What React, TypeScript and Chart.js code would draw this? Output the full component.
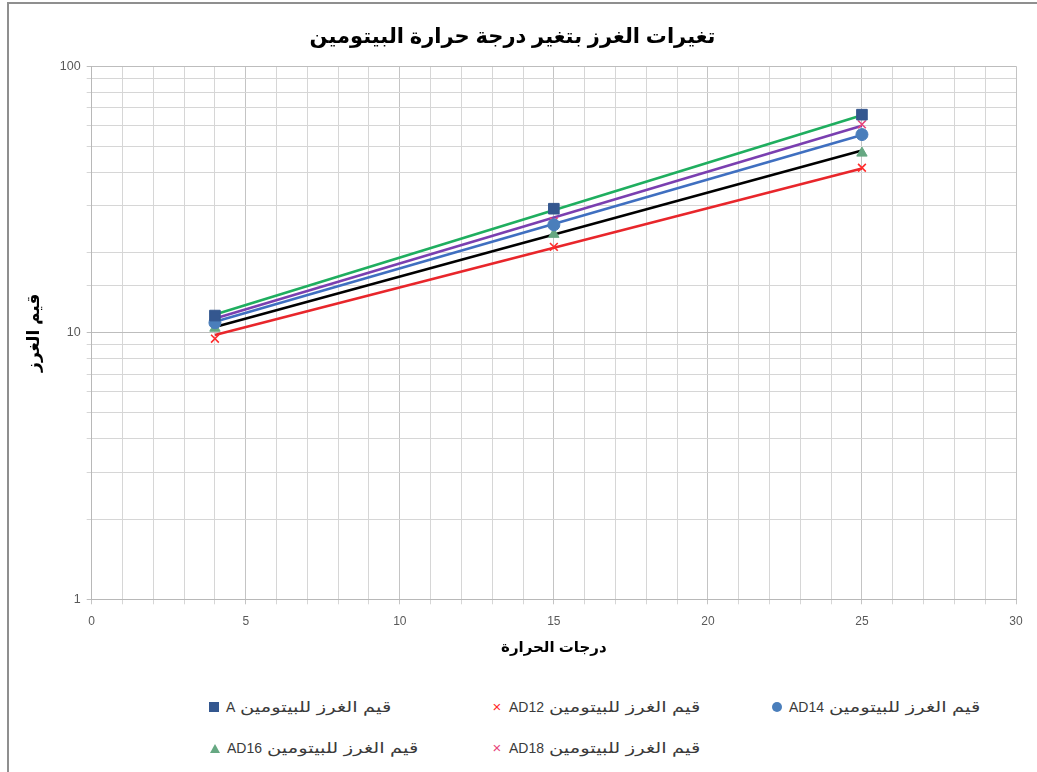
import React, { useEffect, useRef } from "react";
import { Chart, registerables } from "chart.js";

Chart.register(...registerables);

const titleText = "تغيرات الغرز بتغير درجة حرارة البيتومين";
const xTitle = "درجات الحرارة";
const yTitle = "قيم الغرز";

const temps = [4, 15, 25];
const seriesPrefix = "قيم الغرز للبيتومين";
const seriesCodes = ["A", "AD12", "AD14", "AD16", "AD18"];
const valuesA = [11.6, 29.2, 65.8];
const valuesAD12 = [9.5, 21.0, 41.6];
const valuesAD14 = [10.9, 25.4, 55.4];
const valuesAD16 = [10.4, 23.4, 47.2];
const valuesAD18 = [11.2, 26.2, 60.5];

// trend lines (at x = 4 and x = 25)
const trendX = [4, 25];
const trendA = [11.7, 65.5];
const trendAD18 = [11.3, 59.8];
const trendAD14 = [11.0, 55.2];
const trendAD16 = [10.5, 48.3];
const trendAD12 = [9.8, 41.3];

const xTicksMajor = [0, 5, 10, 15, 20, 25, 30];
const yTicksMajor = [1, 10, 100];

const markerColors = ["#34578f", "#ff2b2b", "#4a7ebb", "#66a882", "#e8457c"];
const markerStyles = ["rect", "crossRot", "circle", "triangle", "crossRot"];
const trendColors = ["#1fae5f", "#7a3fb0", "#3f6fc0", "#000000", "#e8262b"];

const FONT = "'Liberation Sans', Arial, 'DejaVu Sans', sans-serif";

function toPts(xs: number[], ys: number[]) {
  return xs.map((x, i) => ({ x, y: ys[i] }));
}

export default function App() {
  const canvasRef = useRef<HTMLCanvasElement | null>(null);

  useEffect(() => {
    if (!canvasRef.current) return;
    const seriesValues = [valuesA, valuesAD12, valuesAD14, valuesAD16, valuesAD18];
    const trends = [trendA, trendAD18, trendAD14, trendAD16, trendAD12];
    const datasets: any[] = [];
    trends.forEach((t, i) => {
      datasets.push({
        label: "trend" + i,
        data: toPts(trendX, t),
        borderColor: trendColors[i],
        backgroundColor: trendColors[i],
        borderWidth: 2.6,
        pointRadius: 0,
        showLine: true,
        order: 2,
      });
    });
    seriesValues.forEach((v, i) => {
      const st = markerStyles[i];
      const isCross = st === "crossRot";
      datasets.push({
        label: seriesPrefix + " " + seriesCodes[i],
        data: toPts(temps, v),
        borderColor: markerColors[i],
        backgroundColor: markerColors[i],
        pointStyle: st,
        pointRadius: isCross ? 5.5 : st === "rect" ? 7.5 : st === "triangle" ? 6 : 6,
        pointBorderWidth: isCross ? 1.6 : 1,
        showLine: false,
        order: 1,
      });
    });

    const chart = new Chart(canvasRef.current, {
      type: "scatter",
      data: { datasets },
      options: {
        animation: false,
        responsive: true,
        maintainAspectRatio: false,
        layout: { padding: { left: 0, right: 21, top: 0, bottom: 0 } },
        plugins: {
          legend: { display: false },
          tooltip: { enabled: false },
          title: {
            display: true,
            text: titleText,
            color: "#000",
            font: { family: FONT, size: 21, weight: "bold" },
            padding: { top: 21, bottom: 16 },
          },
        },
        scales: {
          x: {
            type: "linear",
            min: 0,
            max: 30,
            afterFit: (s: any) => {
              s.height = 64.7;
            },
            ticks: {
              stepSize: 1,
              autoSkip: false,
              maxRotation: 0,
              padding: 10,
              color: "#595959",
              font: { family: FONT, size: 12 },
              callback: (v: any) => (xTicksMajor.includes(Number(v)) ? String(v) : ""),
            },
            grid: {
              color: (c: any) =>
                c.tick && xTicksMajor.includes(c.tick.value) ? "#c4c4c4" : "#d6d6d6",
              tickLength: 5,
              lineWidth: 1,
            },
            border: { color: "#b8b8b8", width: 1 },
            title: {
              display: true,
              text: xTitle,
              color: "#000",
              font: { family: FONT, size: 15, weight: "bold" },
              padding: { top: 4, bottom: 7 },
            },
          },
          y: {
            type: "logarithmic",
            min: 1,
            max: 100,
            afterFit: (s: any) => {
              s.width = 82.7;
            },
            ticks: {
              autoSkip: false,
              padding: 6,
              color: "#595959",
              font: { family: FONT, size: 12.5 },
              callback: (v: any) => (yTicksMajor.includes(Number(v)) ? String(v) : ""),
            },
            grid: {
              color: (c: any) =>
                c.tick && yTicksMajor.includes(c.tick.value) ? "#bdbdbd" : "#d6d6d6",
              tickLength: 5,
              lineWidth: 1,
            },
            border: { color: "#b8b8b8", width: 1 },
            title: {
              display: true,
              text: yTitle,
              color: "#000",
              font: { family: FONT, size: 17, weight: "bold" },
              padding: { top: 15, bottom: 0 },
            },
          },
        },
      } as any,
    });
    return () => chart.destroy();
  }, []);

  const legendPos = [
    { x: 209, y: 707 },
    { x: 492, y: 707 },
    { x: 772, y: 707 },
    { x: 210, y: 748 },
    { x: 492, y: 748 },
  ];

  const marker = (i: number) => {
    const c = markerColors[i];
    const st = markerStyles[i];
    if (st === "rect")
      return <span style={{ display: "inline-block", width: 10, height: 10, background: c }} />;
    if (st === "circle")
      return (
        <span
          style={{ display: "inline-block", width: 10, height: 10, borderRadius: "50%", background: c }}
        />
      );
    if (st === "triangle")
      return (
        <span
          style={{
            display: "inline-block",
            width: 0,
            height: 0,
            borderLeft: "5px solid transparent",
            borderRight: "5px solid transparent",
            borderBottom: "9px solid " + c,
          }}
        />
      );
    return (
      <span
        style={{
          display: "inline-block",
          width: 10,
          color: c,
          fontSize: 15,
          lineHeight: "10px",
          fontFamily: FONT,
          textAlign: "center",
        }}
      >
        ×
      </span>
    );
  };

  return (
    <div
      style={{
        position: "fixed",
        left: 0,
        top: 0,
        width: 1037,
        height: 772,
        overflow: "hidden",
        background: "#fff",
      }}
    >
      <div
        style={{
          position: "absolute",
          left: 7,
          top: 2,
          width: 1060,
          height: 800,
          border: "2px solid #8f8f8f",
          boxSizing: "border-box",
        }}
      />
      <div style={{ position: "absolute", left: 9, top: 4, width: 1028, height: 660 }}>
        <canvas ref={canvasRef} />
      </div>
      {seriesCodes.map((code, i) => (
        <div
          key={code}
          style={{
            position: "absolute",
            left: legendPos[i].x,
            top: legendPos[i].y - 11,
            height: 22,
            display: "flex",
            alignItems: "center",
            gap: 7,
            fontFamily: FONT,
            color: "#3a3a3a",
            whiteSpace: "nowrap",
          }}
        >
          {marker(i)}
          <span style={{ fontSize: 14 }}>{code}</span>
          <span
            dir="rtl"
            style={{
              display: "inline-block",
              fontSize: 15,
              transform: "scaleX(1.3)",
              transformOrigin: "left center",
              marginLeft: -2,
            }}
          >
            {seriesPrefix}
          </span>
        </div>
      ))}
    </div>
  );
}
